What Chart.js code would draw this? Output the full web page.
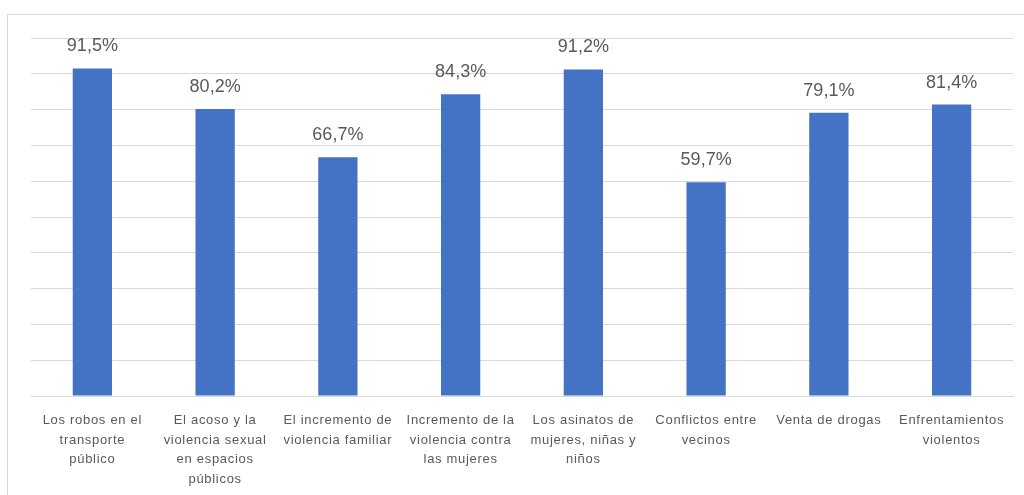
<!DOCTYPE html>
<html>
<head>
<meta charset="utf-8">
<script src="https://cdn.jsdelivr.net/npm/chart.js@4.4.1/dist/chart.umd.min.js"></script>
<style>
  html, body { margin: 0; padding: 0; background: #ffffff; }
  #wrap { position: relative; width: 1024px; height: 495px; overflow: hidden; }
  #frame { position: absolute; left: 7px; top: 14px; width: 1030px; height: 500px;
           border-top: 1px solid #d9d9d9; border-left: 1px solid #d9d9d9; box-sizing: border-box; }
  canvas { position: absolute; left: 0; top: 0; }
</style>
</head>
<body>
<div id="wrap">
  <div id="frame"></div>
  <canvas id="c" width="1024" height="495"></canvas>
</div>
<script>
const categories = [
  ["Los robos en el", "transporte", "público"],
  ["El acoso y la", "violencia sexual", "en espacios", "públicos"],
  ["El incremento de", "violencia familiar"],
  ["Incremento de la", "violencia contra", "las mujeres"],
  ["Los asinatos de", "mujeres, niñas y", "niños"],
  ["Conflictos entre", "vecinos"],
  ["Venta de drogas"],
  ["Enfrentamientos", "violentos"]
];
const values = [91.5, 80.2, 66.7, 84.3, 91.2, 59.7, 79.1, 81.4];
const yMin = 0, yMax = 100, yStep = 10;

const spacing = {
  id: 'spacing',
  beforeDraw(chart) { chart.ctx.letterSpacing = '0.7px'; }
};

const valueLabels = {
  id: 'valueLabels',
  afterDatasetsDraw(chart) {
    const ctx = chart.ctx;
    const meta = chart.getDatasetMeta(0);
    ctx.save();
    ctx.letterSpacing = '0px';
    ctx.font = '18px "Liberation Sans", Arial, sans-serif';
    ctx.fillStyle = '#595959';
    ctx.textAlign = 'center';
    ctx.textBaseline = 'middle';
    meta.data.forEach((bar, i) => {
      const txt = values[i].toFixed(1).replace('.', ',') + '%';
      ctx.fillText(txt, bar.x, bar.y - 22);
    });
    ctx.restore();
  }
};

new Chart(document.getElementById('c'), {
  type: 'bar',
  data: {
    labels: categories,
    datasets: [{
      data: values,
      backgroundColor: '#4472C4',
      borderWidth: 0,
      barPercentage: 0.32,
      categoryPercentage: 1.0
    }]
  },
  options: {
    responsive: false,
    animation: false,
    devicePixelRatio: 1,
    layout: { padding: { left: 31, right: 11, top: 38, bottom: 0 } },
    plugins: { legend: { display: false }, tooltip: { enabled: false } },
    scales: {
      x: {
        grid: { display: false, drawTicks: false },
        border: { display: true, color: '#d9d9d9', width: 1 },
        ticks: {
          maxRotation: 0, autoSkip: false, padding: 15,
          color: '#595959',
          font: { family: '"Liberation Sans", Arial, sans-serif', size: 13, lineHeight: 1.5 }
        },
        afterFit(s) { s.height = 99; }
      },
      y: {
        min: yMin, max: yMax,
        ticks: { display: false, stepSize: yStep },
        grid: { color: '#d9d9d9', drawTicks: false, lineWidth: 1 },
        border: { display: false },
        afterFit(s) { s.width = 0; }
      }
    }
  },
  plugins: [spacing, valueLabels]
});
</script>
</body>
</html>
